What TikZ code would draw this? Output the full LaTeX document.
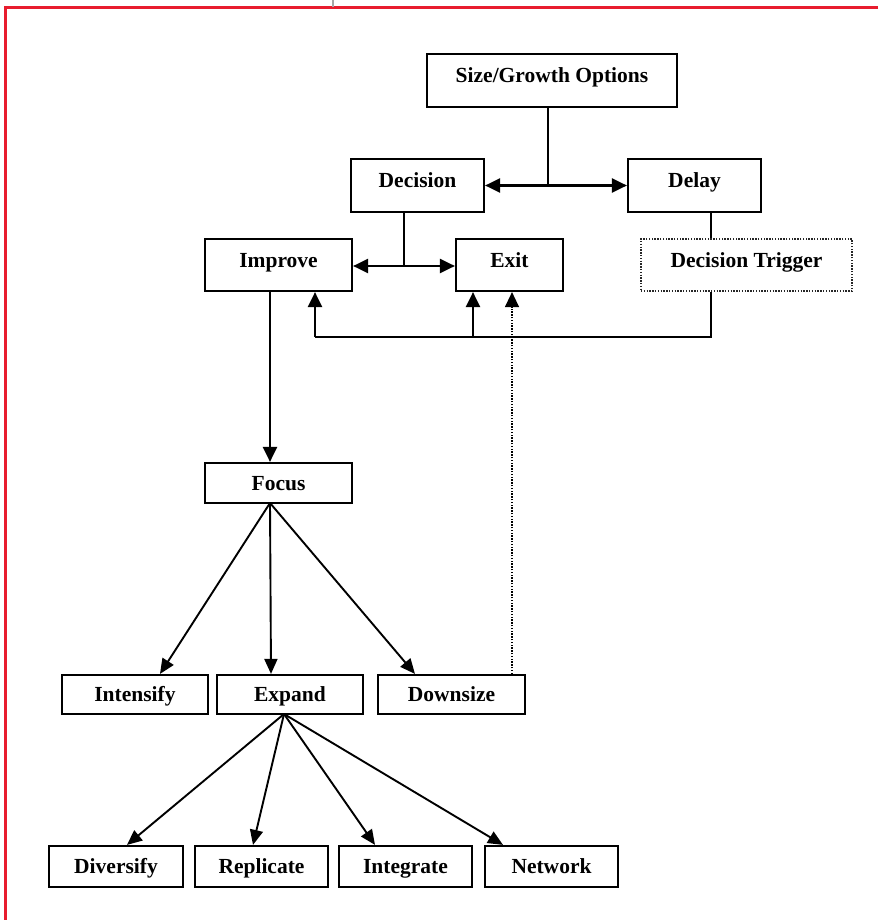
\documentclass[tikz,border=0pt]{standalone}
\usepackage{fontspec}
\setmainfont{Liberation Serif}
\usetikzlibrary{arrows.meta}
\definecolor{frame}{RGB}{232,28,46}
\tikzset{
  box/.style={draw=black, line width=2.2pt, inner sep=0pt, minimum height=52pt,
    font=\fontsize{21.5}{25}\selectfont\bfseries, fill=white,
    text height=16pt, text depth=2pt},
  tall/.style={text height=11pt, text depth=7pt},
  dotbox/.style={box, draw=black!85, line width=1.6pt, dash pattern=on 1.4pt off 1.4pt},
  conn/.style={line width=2.2pt},
  arr/.style={line width=2.2pt, -{Triangle[length=15pt,width=14pt]}},
  darr/.style={line width=1.9pt, -{Triangle[length=15pt,width=13pt]}},
  dotarr/.style={line width=1.3pt, dash pattern=on 1.3pt off 1.5pt, -{Triangle[length=15pt,width=14pt]}},
}
\begin{document}
\begin{tikzpicture}[x=1pt,y=-1pt]
\useasboundingbox (0,0) rectangle (878,920);
% frame
\draw[frame, line width=3pt] (878,8) -- (5,8) -- (5,920);
\draw[gray!70, line width=1.2pt] (333,0) -- (333,7);
% nodes
\node[box, tall, minimum width=250pt, minimum height=53pt] (sg) at (552,80.5) {Size/Growth Options};
\node[box, tall, minimum width=133pt, minimum height=53pt] (dec) at (417.5,185.5) {Decision};
\node[box, tall, minimum width=133pt, minimum height=53pt] (del) at (694.5,185.5) {Delay};
\node[box, tall, minimum width=147pt] (imp) at (278.5,265) {Improve};
\node[box, tall, minimum width=107pt] (exit) at (509.5,265) {Exit};
\node[dotbox, tall, minimum width=211pt] (dt) at (746.5,265) {Decision Trigger};
\node[box, minimum width=147pt, minimum height=40pt] (focus) at (278.5,483) {Focus};
\node[box, minimum width=146pt, minimum height=39pt] (int) at (135,694.5) {Intensify};
\node[box, minimum width=146pt, minimum height=39pt] (exp) at (290,694.5) {Expand};
\node[box, minimum width=147pt, minimum height=39pt] (down) at (451.5,694.5) {Downsize};
\node[box, minimum width=134pt, minimum height=41pt] (div) at (116,866.5) {Diversify};
\node[box, minimum width=133pt, minimum height=41pt] (rep) at (261.5,866.5) {Replicate};
\node[box, minimum width=133pt, minimum height=41pt] (integ) at (405.5,866.5) {Integrate};
\node[box, minimum width=133pt, minimum height=41pt] (net) at (551.5,866.5) {Network};
% junctions
\coordinate (j1) at (548,185.5);
\coordinate (j2) at (404,266);
\coordinate (j3) at (711,337);
\coordinate (j4) at (315,337);
\coordinate (j5) at (473,337);
\coordinate (fo) at (270,503);
\coordinate (ex) at (284,714);
% top connectors
\draw[conn] (sg.south -| j1) -- (j1);
\draw[arr] (j1) -- (dec.east |- j1);
\draw[arr] (j1) -- (del.west |- j1);
\draw[conn] (dec.south -| j2) -- (j2);
\draw[arr] (j2) -- (imp.east |- j2);
\draw[arr] (j2) -- (exit.west |- j2);
\draw[conn] (del.south -| j3) -- (dt.north -| j3);
\draw[conn] (dt.south -| j3) -- (j3) -- (j4);
\draw[arr] (j4) -- (imp.south -| j4);
\draw[arr] (j5) -- (exit.south -| j5);
% improve -> focus
\draw[arr] (imp.south -| fo) -- (focus.north -| fo);
% focus -> second row
\draw[darr] (fo) -- (int.north -| 160,0);
\draw[darr] (fo) -- (exp.north -| 271,0);
\draw[darr] (fo) -- (down.north -| 415,0);
% downsize -> exit dotted
\draw[dotarr] (down.north -| 512,0) -- (exit.south -| 512,0);
% expand -> bottom row
\draw[darr] (ex) -- (div.north -| 127,0);
\draw[darr] (ex) -- (rep.north -| 253,0);
\draw[darr] (ex) -- (integ.north -| 375,0);
\draw[darr] (ex) -- (net.north -| 503,0);
\end{tikzpicture}
\end{document}
